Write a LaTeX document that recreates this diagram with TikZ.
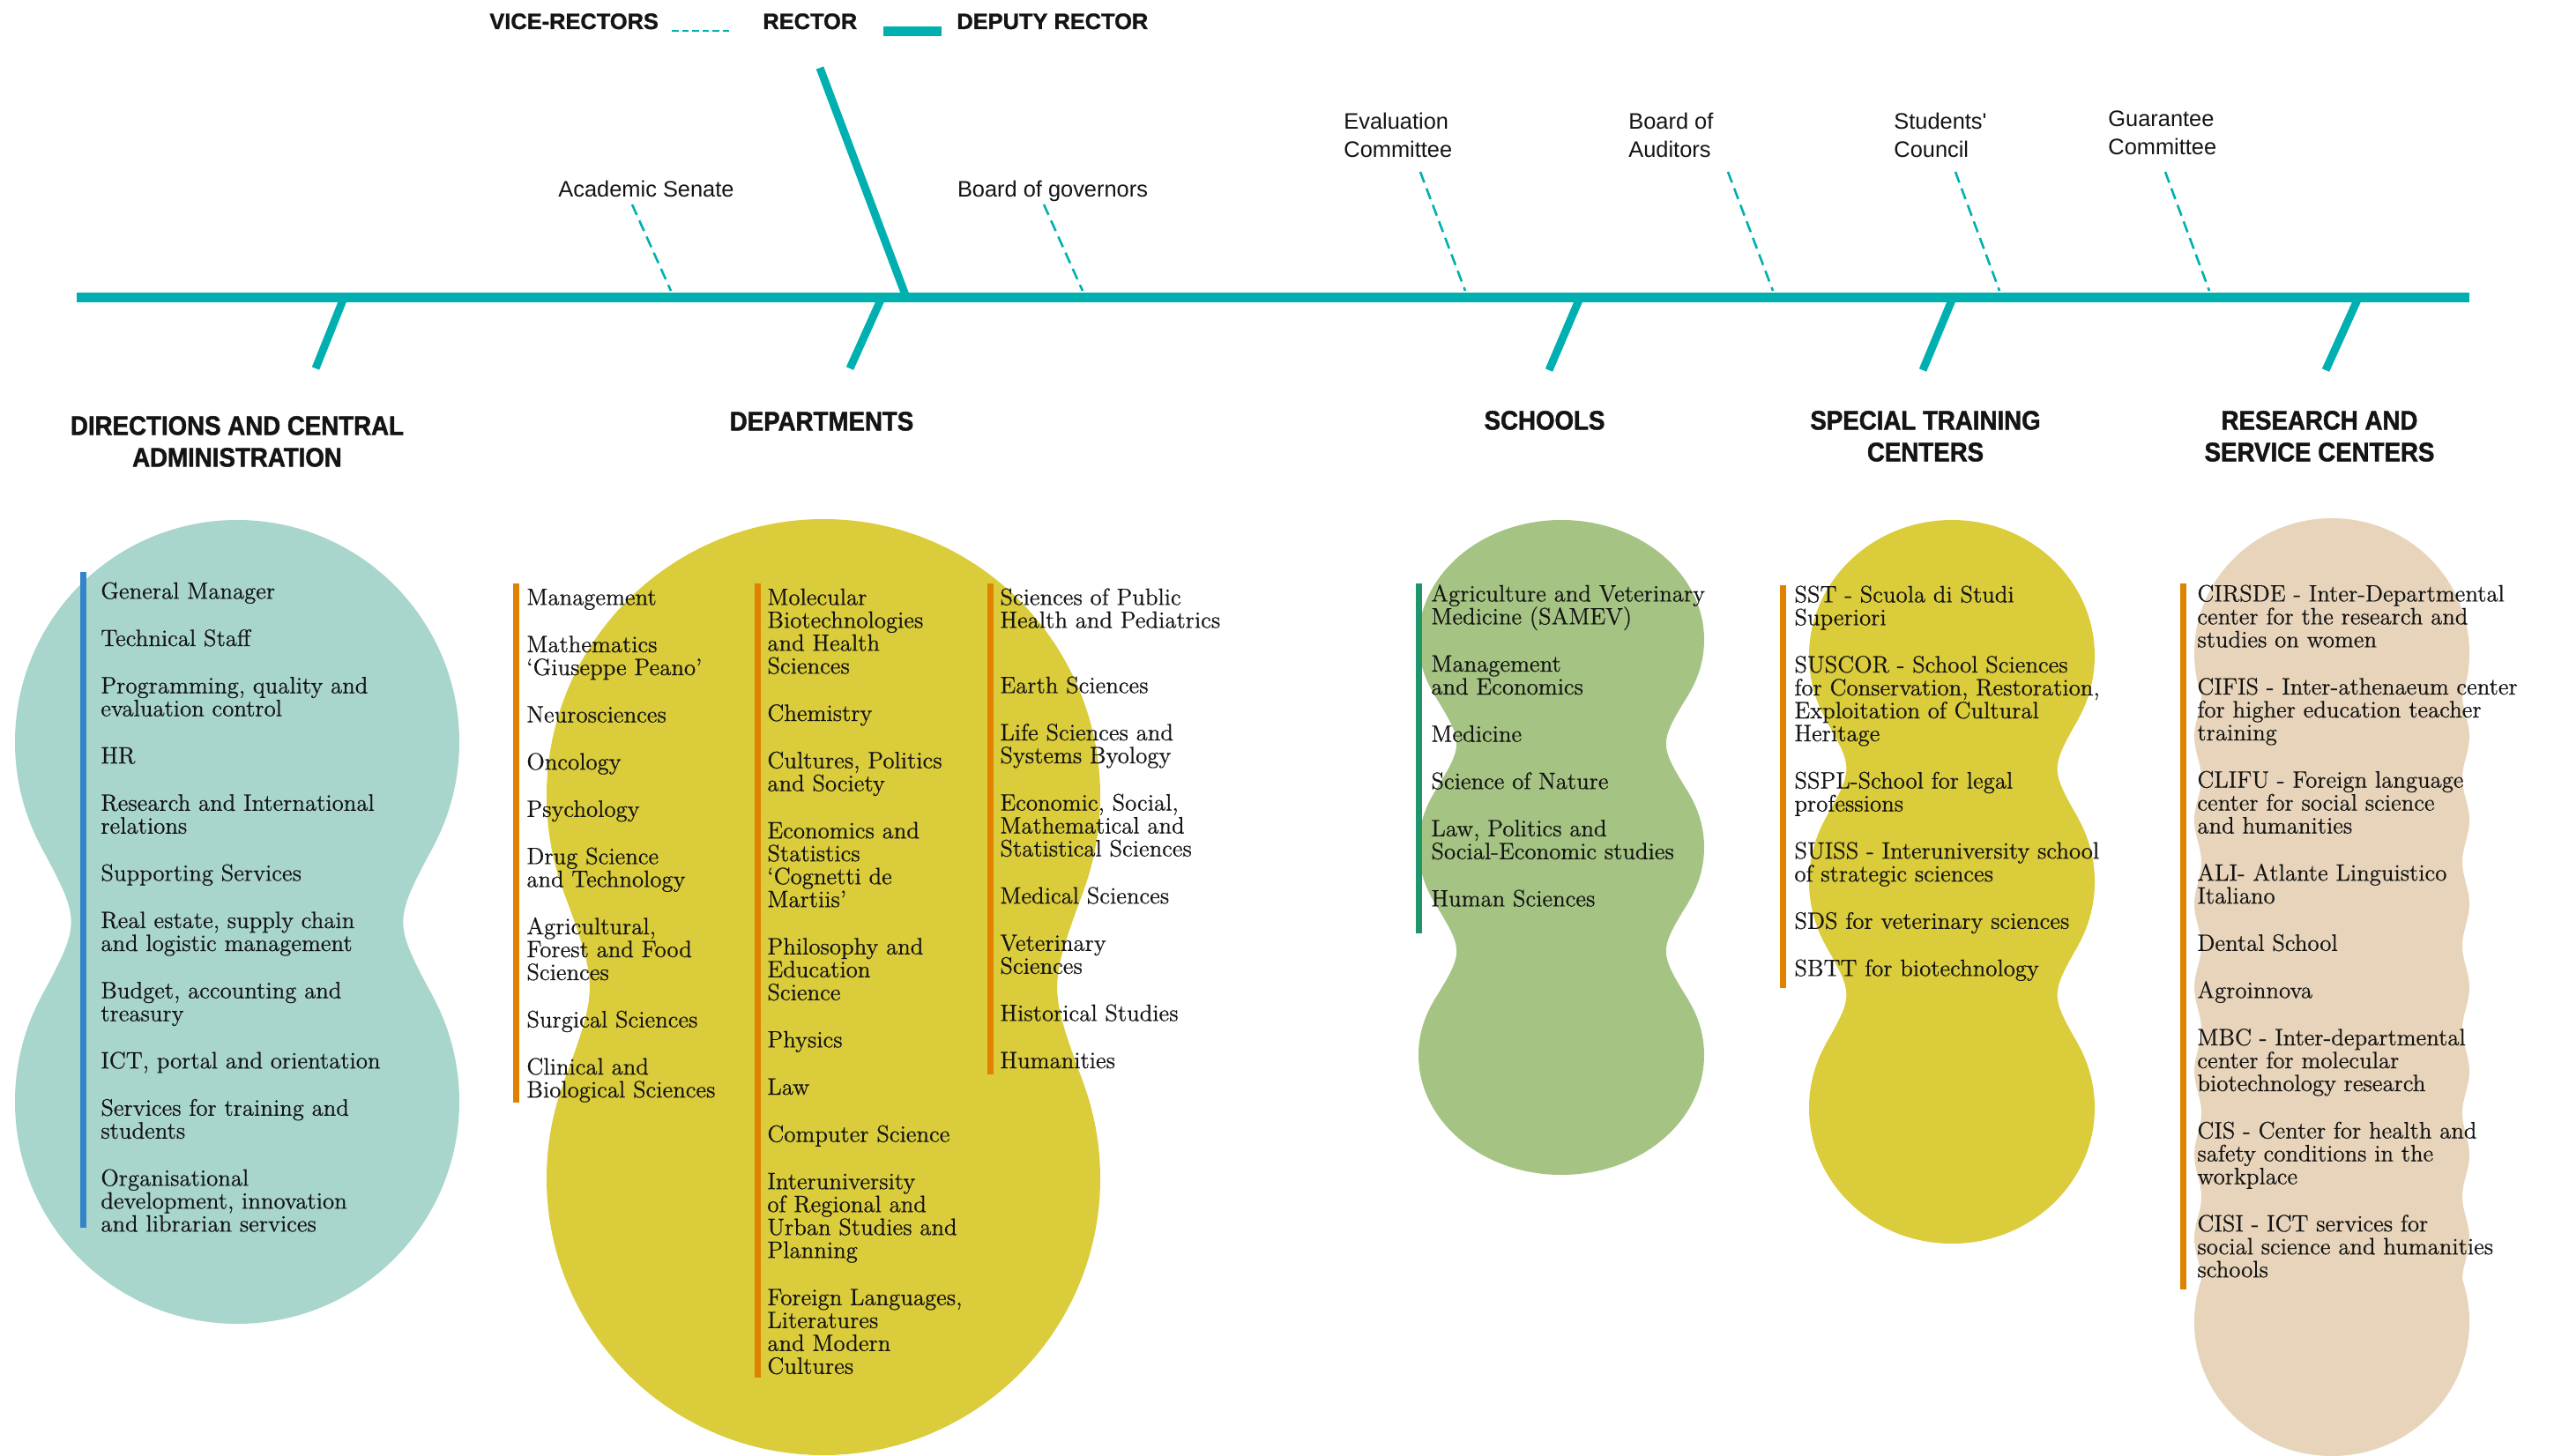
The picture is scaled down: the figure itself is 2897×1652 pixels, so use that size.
\documentclass[tikz,border=0pt]{standalone}
\usepackage{fontspec}
\setmainfont{Latin Modern Roman}[Ligatures=TeX, FakeBold=0.6]
\newfontfamily\sansfont{Liberation Sans}
\newfontfamily\legendfont[FakeBold=1.2]{Liberation Sans Bold}
\newfontfamily\titlefont[FakeStretch=0.91, FakeBold=1.5]{Liberation Sans Bold}
\definecolor{spinec}{RGB}{0,176,176}
\definecolor{dirfill}{RGB}{168,213,204}
\definecolor{yelfill}{RGB}{219,204,59}
\definecolor{schfill}{RGB}{165,195,131}
\definecolor{resfill}{RGB}{231,212,186}
\definecolor{bluebar}{RGB}{52,133,200}
\definecolor{orangebar}{RGB}{222,130,0}
\definecolor{greenbar}{RGB}{30,150,105}
\definecolor{inkc}{RGB}{20,20,20}
\newcommand\fl{\rule{0pt}{10pt}}
\newcommand\isep{\\[13.8pt]}
% waist filler between two equal lobes: cx, y1, y2, rx, ry, theta
\newcommand\waist[6]{%
  \pgfmathsetmacro\wax{#4*cos(#6)}%
  \pgfmathsetmacro\way{#5*sin(#6)}%
  \pgfmathsetmacro\wh{(#3-#2)/2}%
  \pgfmathsetmacro\wt{(\wh-\way)/(#5*cos(#6))}%
  \pgfmathsetmacro\wp{\wax-\wt*#4*sin(#6)}%
  \pgfmathsetmacro\wm{(#2+#3)/2}%
  \fill ({#1-\wax},{#2+\way}) .. controls ({#1-\wp},{\wm}) and ({#1-\wp},{\wm}) .. ({#1-\wax},{#3-\way})
     -- ({#1+\wax},{#3-\way}) .. controls ({#1+\wp},{\wm}) and ({#1+\wp},{\wm}) .. ({#1+\wax},{#2+\way}) -- cycle;}
\tikzset{
  listtext/.style={anchor=north west, inner sep=0pt, align=left, text=inkc,
    font=\fontsize{13.4}{13}\selectfont},
  titletext/.style={anchor=north, inner sep=0pt, align=center, text=inkc,
    font=\titlefont\fontsize{15.2}{18}\selectfont},
  govtext/.style={inner sep=0pt, align=left, text=inkc,
    font=\sansfont\fontsize{12.7}{16}\selectfont},
  legendtext/.style={anchor=base west, inner sep=0pt, text=inkc,
    font=\legendfont\fontsize{12.7}{15}\selectfont},
  spine/.style={draw=spinec, line width=5.5pt},
  bone/.style={draw=spinec, line width=4.5pt},
  vdash/.style={draw=spinec, line width=1.3pt, dash pattern=on 6.5pt off 3.5pt},
  listbar/.style={line width=3.5pt}
}
\begin{document}
\begin{tikzpicture}[x=0.5pt,y=-0.5pt]
\fill[white] (0,0) rectangle (2897,1652);
\useasboundingbox (0,0) rectangle (2897,1652);

% ---------- blobs ----------
\begin{scope}[fill=dirfill]
  \fill (269,842) circle[radius=252];
  \fill (269,1250) circle[radius=252];
  \waist{269}{842}{1250}{252}{252}{28}
\end{scope}
\begin{scope}[fill=yelfill]
  \fill (934,903) circle[radius=314];
  \fill (934,1337) circle[radius=314];
  \waist{934}{903}{1337}{314}{314}{20}
\end{scope}
\begin{scope}[fill=schfill]
  \fill (1771,726) ellipse[x radius=162, y radius=136];
  \fill (1771,961.5) ellipse[x radius=162, y radius=136];
  \fill (1771,1197) ellipse[x radius=162, y radius=136];
  \waist{1771}{726}{961.5}{162}{136}{27}
  \waist{1771}{961.5}{1197}{162}{136}{27}
\end{scope}
\begin{scope}[fill=yelfill]
  \fill (2214,744) ellipse[x radius=162, y radius=154];
  \fill (2214,1000.5) ellipse[x radius=162, y radius=154];
  \fill (2214,1257) ellipse[x radius=162, y radius=154];
  \waist{2214}{744}{1000.5}{162}{154}{28}
  \waist{2214}{1000.5}{1257}{162}{154}{28}
\end{scope}
\begin{scope}[fill=resfill]
  \fill (2645,741) ellipse[x radius=156, y radius=153];
  \fill (2645,1500) ellipse[x radius=156, y radius=152];
  \fill plot[domain=741:1500, samples=160, variable=\t] ({2493-4*cos(3.7945*(\t-741))},{\t})
     -- plot[domain=1500:741, samples=160, variable=\t] ({2797+4*cos(3.7945*(\t-741))},{\t}) -- cycle;
\end{scope}

% ---------- legend ----------
\node[legendtext] (lgvice) at (555,33) {VICE-RECTORS};
\node[legendtext] (lgrector) at (865,33) {RECTOR};
\node[legendtext] (lgdeputy) at (1085,33) {DEPUTY RECTOR};
\coordinate (lgd1) at (762,35);
\coordinate (lgd2) at (828,35);
\draw[draw=spinec, line width=1.3pt, dash pattern=on 3.75pt off 2pt] (lgd1) -- (lgd2);
\coordinate (lgs1) at (1002,36);
\coordinate (lgs2) at (1068,36);
\draw[spine] (lgs1) -- (lgs2);

% ---------- fishbone ----------
\coordinate (rtop) at (930,77);
\coordinate (rbot) at (1029,340);
\draw[bone] (rtop) -- (rbot);
\coordinate (bdir1) at (390,338);  \coordinate (bdir2) at (358,418);
\coordinate (bdep1) at (1000,338); \coordinate (bdep2) at (964,418);
\coordinate (bsch1) at (1792,338); \coordinate (bsch2) at (1757,420);
\coordinate (bstc1) at (2215,338); \coordinate (bstc2) at (2181,420);
\coordinate (bres1) at (2675,338); \coordinate (bres2) at (2638,420);
\draw[bone] (bdir1) -- (bdir2);
\draw[bone] (bdep1) -- (bdep2);
\draw[bone] (bsch1) -- (bsch2);
\draw[bone] (bstc1) -- (bstc2);
\draw[bone] (bres1) -- (bres2);
\coordinate (spl) at (87,338);
\coordinate (spr) at (2801,338);
\draw[spine] (spl) -- (spr);

% ---------- governing bodies ----------
\node[govtext, anchor=base] (gas) at (733,224) {Academic Senate};
\node[govtext, anchor=base] (gbg) at (1194,224) {Board of governors};
\node[govtext, anchor=north west] (gev) at (1524,126) {\fl Evaluation\\Committee};
\node[govtext, anchor=north west] (gba) at (1847,126) {\fl Board of\\Auditors};
\node[govtext, anchor=north west] (gsc) at (2148,126) {\fl Students'\\Council};
\node[govtext, anchor=north west] (ggc) at (2391,123) {\fl Guarantee\\Committee};
\coordinate (das1) at (717,232);  \coordinate (das2) at (761,330);
\coordinate (dbg1) at (1184,232); \coordinate (dbg2) at (1228,330);
\coordinate (dev1) at (1611,195); \coordinate (dev2) at (1662,330);
\coordinate (dba1) at (1960,195); \coordinate (dba2) at (2011,330);
\coordinate (dsc1) at (2218,195); \coordinate (dsc2) at (2268,330);
\coordinate (dgc1) at (2456,195); \coordinate (dgc2) at (2506,330);
\draw[vdash] (das1) -- (das2);
\draw[vdash] (dbg1) -- (dbg2);
\draw[vdash] (dev1) -- (dev2);
\draw[vdash] (dba1) -- (dba2);
\draw[vdash] (dsc1) -- (dsc2);
\draw[vdash] (dgc1) -- (dgc2);

% ---------- titles ----------
\node[titletext] (tdir) at (269,469) {\rule{0pt}{12pt}DIRECTIONS AND CENTRAL\\ADMINISTRATION};
\node[titletext] (tdep) at (932,464) {\rule{0pt}{12pt}DEPARTMENTS};
\node[titletext] (tsch) at (1752,463) {\rule{0pt}{12pt}SCHOOLS};
\node[titletext] (tstc) at (2184,463) {\rule{0pt}{12pt}SPECIAL TRAINING\\CENTERS};
\node[titletext] (tres) at (2631,463) {\rule{0pt}{12pt}RESEARCH AND\\SERVICE CENTERS};

% ---------- bars ----------
\draw[listbar, draw=bluebar] (94,649) -- (94,1393);
\draw[listbar, draw=orangebar] (585,662) -- (585,1251);
\draw[listbar, draw=orangebar] (859,662) -- (859,1563);
\draw[listbar, draw=orangebar] (1123,662) -- (1123,1219);
\draw[listbar, draw=greenbar] (1609,662) -- (1609,1059);
\draw[listbar, draw=orangebar] (2022,664) -- (2022,1121);
\draw[listbar, draw=orangebar] (2476,662) -- (2476,1463);

% ---------- lists ----------
\node[listtext] (ldir) at (114,659) {\fl General Manager\isep
Technical Staff\isep
Programming, quality and\\evaluation control\isep
HR\isep
Research and International\\relations\isep
Supporting Services\isep
Real estate, supply chain\\and logistic management\isep
Budget, accounting and\\treasury\isep
ICT, portal and orientation\isep
Services for training and\\students\isep
Organisational\\development, innovation\\and librarian services};

\node[listtext] (ldep1) at (597,666) {\fl Management\isep
Mathematics\\`Giuseppe Peano'\isep
Neurosciences\isep
Oncology\isep
Psychology\isep
Drug Science\\and Technology\isep
Agricultural,\\Forest and Food\\Sciences\isep
Surgical Sciences\isep
Clinical and\\Biological Sciences};

\node[listtext] (ldep2) at (870,666) {\fl Molecular\\Biotechnologies\\and Health\\Sciences\isep
Chemistry\isep
Cultures, Politics\\and Society\isep
Economics and\\Statistics\\`Cognetti de\\Martiis'\isep
Philosophy and\\Education\\Science\isep
Physics\isep
Law\isep
Computer Science\isep
Interuniversity\\of Regional and\\Urban Studies and\\Planning\isep
Foreign Languages,\\Literatures\\and Modern\\Cultures};

\node[listtext] (ldep3) at (1134,666) {\fl Sciences of Public\\Health and Pediatrics\\[24pt]
Earth Sciences\isep
Life Sciences and\\Systems Byology\isep
Economic, Social,\\Mathematical and\\Statistical Sciences\isep
Medical Sciences\isep
Veterinary\\Sciences\isep
Historical Studies\isep
Humanities};

\node[listtext] (lsch) at (1623,662) {\fl Agriculture and Veterinary\\Medicine (SAMEV)\isep
Management\\and Economics\isep
Medicine\isep
Science of Nature\isep
Law, Politics and\\Social-Economic studies\isep
Human Sciences};

\node[listtext] (lstc) at (2035,663) {\fl SST - Scuola di Studi\\Superiori\isep
SUSCOR - School Sciences\\for Conservation, Restoration,\\Exploitation of Cultural\\Heritage\isep
SSPL-School for legal\\professions\isep
SUISS - Interuniversity school\\of strategic sciences\isep
SDS for veterinary sciences\isep
SBTT for biotechnology};

\node[listtext] (lres) at (2492,662) {\fl CIRSDE - Inter-Departmental\\center for the research and\\studies on women\isep
CIFIS - Inter-athenaeum center\\for higher education teacher\\training\isep
CLIFU - Foreign language\\center for social science\\and humanities\isep
ALI- Atlante Linguistico\\Italiano\isep
Dental School\isep
Agroinnova\isep
MBC - Inter-departmental\\center for molecular\\biotechnology research\isep
CIS - Center for health and\\safety conditions in the\\workplace\isep
CISI - ICT services for\\social science and humanities\\schools};
\end{tikzpicture}
\end{document}
